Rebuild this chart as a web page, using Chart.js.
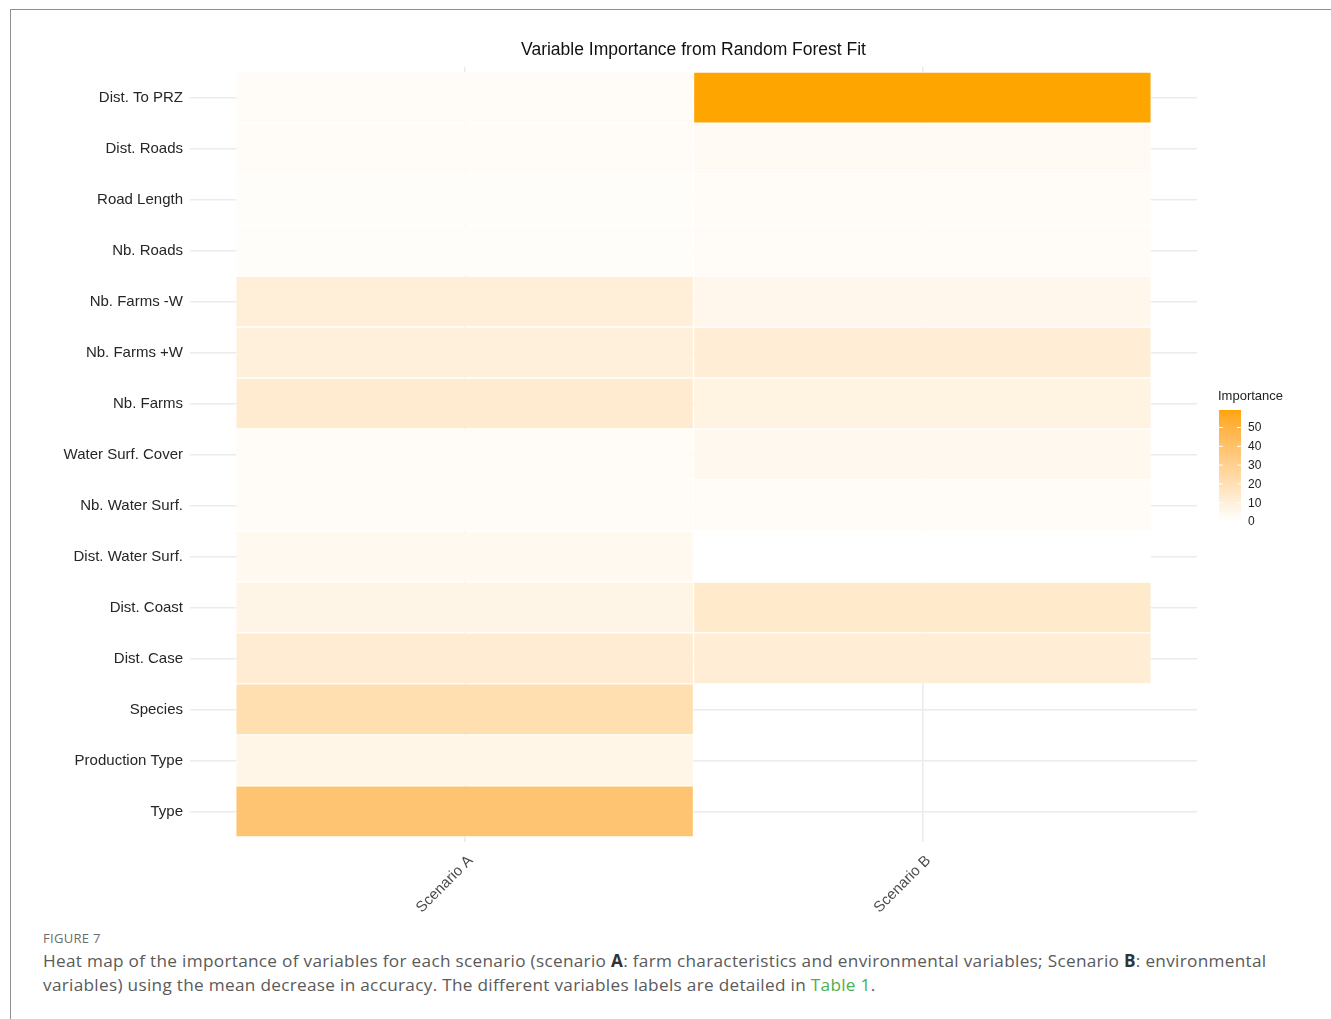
<!DOCTYPE html>
<html><head><meta charset="utf-8">
<script src="https://cdn.jsdelivr.net/npm/chart.js@4.4.1/dist/chart.umd.min.js"></script>
<style>
html,body{margin:0;padding:0;background:#fff;}
body{width:1331px;height:1019px;position:relative;overflow:hidden;font-family:"Liberation Sans",Arial,sans-serif;}
#frame{position:absolute;left:10px;top:9px;width:1321px;height:1010px;border-top:1px solid #8f8f8f;border-left:1px solid #8f8f8f;box-sizing:border-box;}
#wrap{position:absolute;left:11px;top:10px;width:1320px;height:910px;}
#fig{position:absolute;left:43px;top:929px;font-family:"Open Sans",Lato,sans-serif;font-size:13px;color:#6b6b6b;letter-spacing:0.3px;}
#cap{position:absolute;left:43px;top:949px;font-family:"Open Sans",Lato,sans-serif;font-size:17.2px;line-height:24px;color:#5a5a5a;white-space:nowrap;letter-spacing:0.3px;}
#cap b{color:#333;}
#cap span{color:#4caf50;}
</style>
</head><body>
<div id="frame"></div>
<div id="wrap"><canvas id="c" width="1320" height="910"></canvas></div>
<div id="fig">FIGURE 7</div>
<div id="cap">Heat map of the importance of variables for each scenario (scenario <b>A</b>: farm characteristics and environmental variables; Scenario <b>B</b>: environmental<br>variables) using the mean decrease in accuracy. The different variables labels are detailed in <span>Table 1</span>.</div>
<script>
const categories = ["Dist. To PRZ","Dist. Roads","Road Length","Nb. Roads","Nb. Farms -W","Nb. Farms +W","Nb. Farms","Water Surf. Cover","Nb. Water Surf.","Dist. Water Surf.","Dist. Coast","Dist. Case","Species","Production Type","Type"];
const scenarios = ["Scenario A","Scenario B"];
const scenarioA = [2.0,1.8,1.5,1.5,10,9.5,12.5,1.8,2.3,4,6.5,12,21,6,38];
const scenarioB = [59,2.8,2.3,2.3,5,11,7.7,4.3,2,0,13.5,11,null,null,null];
const legendTicks = [0,10,20,30,40,50];
const legendTitle = "Importance";
const chartTitle = "Variable Importance from Random Forest Fit";

// Lab interpolation white -> orange
function toLin(c){c/=255;return c<=0.04045?c/12.92:Math.pow((c+0.055)/1.055,2.4);}
function fromLin(c){c=c<=0.0031308?12.92*c:1.055*Math.pow(c,1/2.4)-0.055;return Math.max(0,Math.min(255,Math.round(c*255)));}
function rgb2lab(r,g,b){
  r=toLin(r);g=toLin(g);b=toLin(b);
  let X=(0.4124*r+0.3576*g+0.1805*b)/0.95047,Y=(0.2126*r+0.7152*g+0.0722*b),Z=(0.0193*r+0.1192*g+0.9505*b)/1.08883;
  const f=t=>t>0.008856?Math.cbrt(t):7.787*t+16/116;
  const fx=f(X),fy=f(Y),fz=f(Z);
  return [116*fy-16,500*(fx-fy),200*(fy-fz)];
}
function lab2rgb(L,a,b){
  const fy=(L+16)/116,fx=fy+a/500,fz=fy-b/200;
  const fi=t=>t*t*t>0.008856?t*t*t:(t-16/116)/7.787;
  const X=fi(fx)*0.95047,Y=fi(fy),Z=fi(fz)*1.08883;
  const r=3.2406*X-1.5372*Y-0.4986*Z,g=-0.9689*X+1.8758*Y+0.0415*Z,bb=0.0557*X-0.2040*Y+1.0570*Z;
  return [fromLin(r),fromLin(g),fromLin(bb)];
}
const LOW=rgb2lab(255,255,255),HIGH=rgb2lab(255,165,0);
const allVals=scenarioA.concat(scenarioB).filter(v=>v!=null);
const vMin=Math.min(...allVals),vMax=Math.max(...allVals);
function colorFor(v){
  const t=(v-vMin)/(vMax-vMin);
  const c=lab2rgb(LOW[0]+(HIGH[0]-LOW[0])*t,LOW[1]+(HIGH[1]-LOW[1])*t,LOW[2]+(HIGH[2]-LOW[2])*t);
  return `rgb(${c[0]},${c[1]},${c[2]})`;
}
function buildDataset(vals,col,label){
  const pts=[],cols=[];
  vals.forEach((v,i)=>{ if(v!=null){ pts.push({y:i,x:[col-0.5,col+0.5]}); cols.push(colorFor(v)); } });
  return {label,data:pts,backgroundColor:cols,borderColor:'rgba(255,255,255,0.55)',borderWidth:1,borderSkipped:false,grouped:false,barPercentage:1,categoryPercentage:1};
}

const legendPlugin={
  id:'colorbarLegend',
  afterDraw(chart){
    const ctx=chart.ctx;
    const x0=1208,w=22,bottom=511,ppu=1.88;
    const top=bottom-(vMax-vMin)*ppu;
    ctx.save();
    ctx.fillStyle='#222';
    ctx.font='13px "Liberation Sans", Arial, sans-serif';
    ctx.textAlign='left';ctx.textBaseline='middle';
    ctx.fillText(legendTitle,1207,386);
    for(let y=Math.floor(top);y<bottom;y++){
      const v=vMin+(bottom-y-0.5)/ppu;
      ctx.fillStyle=colorFor(Math.max(vMin,Math.min(vMax,v)));
      ctx.fillRect(x0,y,w,1);
    }
    ctx.strokeStyle='#fff';ctx.lineWidth=1;
    ctx.fillStyle='#222';
    ctx.font='12px "Liberation Sans", Arial, sans-serif';
    legendTicks.forEach(t=>{
      const y=bottom-(t-vMin)*ppu;
      ctx.beginPath();
      ctx.moveTo(x0,y+0.5);ctx.lineTo(x0+4,y+0.5);
      ctx.moveTo(x0+w-4,y+0.5);ctx.lineTo(x0+w,y+0.5);
      ctx.stroke();
      ctx.fillText(String(t),1237,y+1);
    });
    ctx.restore();
  }
};

new Chart(document.getElementById('c'),{
  type:'bar',
  data:{datasets:[buildDataset(scenarioA,1,scenarios[0]),buildDataset(scenarioB,2,scenarios[1])]},
  options:{
    indexAxis:'y',
    responsive:false,
    devicePixelRatio:1,
    animation:false,
    layout:{padding:{left:0,right:134,top:0,bottom:0}},
    plugins:{
      legend:{display:false},
      tooltip:{enabled:false},
      title:{display:true,text:chartTitle,fullSize:false,color:'#111',font:{family:'"Liberation Sans", Arial, sans-serif',size:17.5,weight:'normal'},padding:{top:30,bottom:6}}
    },
    scales:{
      x:{
        type:'linear',min:0.4,max:2.6,offset:false,
        afterBuildTicks:s=>{s.ticks=scenarios.map((n,i)=>({value:i+1}));},
        afterFit:s=>{s.height=78;},
        ticks:{callback:(v)=>scenarios[Math.round(v)-1],minRotation:45,maxRotation:45,autoSkip:false,padding:10,labelOffset:6,color:'#4d4d4d',font:{family:'"Liberation Sans", Arial, sans-serif',size:15}},
        grid:{color:'#ebebeb',lineWidth:1.5,drawTicks:false,offset:false},
        border:{display:false}
      },
      y:{
        type:'linear',reverse:true,min:-0.6,max:categories.length-0.4,offset:false,
        afterBuildTicks:s=>{s.ticks=categories.map((c,i)=>({value:i}));},
        afterFit:s=>{s.width=179;},
        ticks:{callback:(v)=>categories[Math.round(v)],autoSkip:false,padding:7,color:'#262626',font:{family:'"Liberation Sans", Arial, sans-serif',size:15}},
        grid:{color:'#ebebeb',lineWidth:1.5,drawTicks:false,offset:false},
        border:{display:false}
      }
    }
  },
  plugins:[legendPlugin]
});
</script>
</body></html>
